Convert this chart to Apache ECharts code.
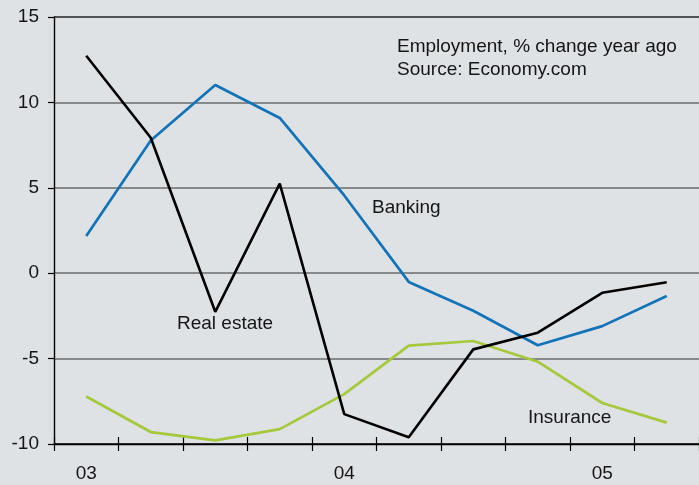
<!DOCTYPE html>
<html>
<head>
<meta charset="utf-8">
<script src="https://cdn.jsdelivr.net/npm/echarts@6/dist/echarts.min.js"></script>
<style>
html,body{margin:0;padding:0;background:#dee2e5;}
#chart{width:699px;height:485px;}
</style>
</head>
<body>
<div id="chart"></div>
<script>
var categories = ['2003Q1','2003Q2','2003Q3','2003Q4','2004Q1','2004Q2','2004Q3','2004Q4','2005Q1','2005Q2'];
var tickLabels = ['03','','','','04','','','','05',''];
var realEstate = [12.73, 7.93, -2.26, 5.24, -8.25, -9.6, -4.46, -3.48, -1.15, -0.53];
var banking = [2.18, 7.77, 11.02, 9.09, 4.55, -0.51, -2.2, -4.22, -3.1, -1.34];
var insurance = [-7.22, -9.3, -9.79, -9.13, -7.08, -4.24, -3.97, -5.18, -7.6, -8.75];
var yMin = -10, yMax = 15, yStep = 5;

var FONT = 'Liberation Sans, Arial, Helvetica, sans-serif';
var TXT = '#151515';
var FS = 19;
var chart = echarts.init(document.getElementById('chart'), null, {renderer:'canvas'});
chart.setOption({
  backgroundColor: '#dee2e5',
  animation: false,
  grid: {left: 54, top: 17, width: 648, height: 427, containLabel: false},
  xAxis: [{
    type: 'category', data: categories, boundaryGap: true, position: 'bottom',
    axisLine: {show: true, onZero: false, lineStyle: {color: '#000', width: 1.4}},
    axisTick: {show: true, inside: false, length: 7, lineStyle: {color: '#000', width: 1.2}},
    axisLabel: {show: true, interval: 0, margin: 20, fontSize: FS, fontFamily: FONT, color: TXT,
      formatter: function (v, i) { return tickLabels[i]; }},
    splitLine: {show: false}
  }, {
    type: 'category', data: categories, boundaryGap: true, position: 'bottom', gridIndex: 0,
    axisLine: {show: false, onZero: false},
    axisTick: {show: true, inside: true, length: 7, lineStyle: {color: '#000', width: 1.2}},
    axisLabel: {show: false}, splitLine: {show: false}
  }],
  yAxis: {
    type: 'value', min: yMin, max: yMax, interval: yStep,
    axisLine: {show: true, onZero: false, lineStyle: {color: '#000', width: 1.4}},
    axisTick: {show: true, inside: false, length: 6, lineStyle: {color: '#000', width: 1.2}},
    axisLabel: {margin: 15, fontSize: FS, fontFamily: FONT, color: TXT},
    splitLine: {show: true, lineStyle: {color: ['#000', '#6b6b6b', '#6b6b6b', '#6b6b6b', '#6b6b6b', '#222'], width: 1.5}}
  },
  series: [
    {name: 'Insurance', type: 'line', data: insurance, symbol: 'none', lineStyle: {color: '#a5c93b', width: 2.7}},
    {name: 'Banking', type: 'line', data: banking, symbol: 'none', lineStyle: {color: '#1273b9', width: 2.7}},
    {name: 'Real estate', type: 'line', data: realEstate, symbol: 'none', lineStyle: {color: '#000', width: 2.6}}
  ],
  graphic: [
    {type: 'text', left: 397, top: 37, style: {text: 'Employment, % change year ago', font: FS + 'px ' + FONT, fill: TXT}},
    {type: 'text', left: 397, top: 60, style: {text: 'Source: Economy.com', font: FS + 'px ' + FONT, fill: TXT}},
    {type: 'text', left: 372, top: 198, style: {text: 'Banking', font: FS + 'px ' + FONT, fill: TXT}},
    {type: 'text', left: 177, top: 314, style: {text: 'Real estate', font: FS + 'px ' + FONT, fill: TXT}},
    {type: 'text', left: 528, top: 408, style: {text: 'Insurance', font: FS + 'px ' + FONT, fill: TXT}}
  ]
});
</script>
</body>
</html>
